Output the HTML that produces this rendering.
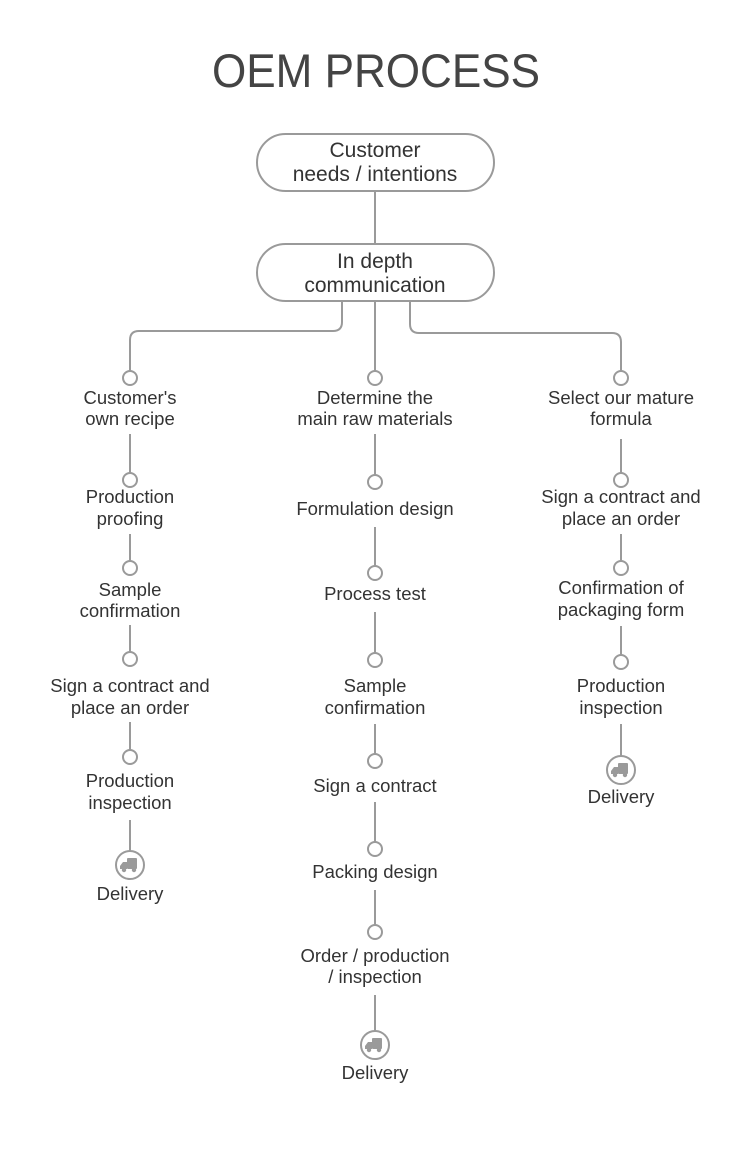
<!DOCTYPE html>
<html><head><meta charset="utf-8"><style>
html,body{margin:0;padding:0;background:#fff;width:750px;height:1164px;overflow:hidden}
svg text{font-family:"Liberation Sans",sans-serif;fill:#333;text-anchor:middle}
</style></head><body>
<svg width="750" height="1164" viewBox="0 0 750 1164" xmlns="http://www.w3.org/2000/svg">
<text x="376" y="87" font-size="47" textLength="328" lengthAdjust="spacingAndGlyphs" style="fill:#444">OEM PROCESS</text>
<g fill="none" stroke="#9a9a9a" stroke-width="2">
<rect x="257" y="134" width="237" height="57" rx="28.5"/>
<rect x="257" y="244" width="237" height="57" rx="28.5"/>
<line x1="375" y1="191" x2="375" y2="244"/>
<line x1="375" y1="301" x2="375" y2="371"/>
<path d="M342 301 V322 Q342 331 333 331 H139 Q130 331 130 340 V371"/>
<path d="M410 301 V324 Q410 333 419 333 H612 Q621 333 621 342 V371"/>
<circle cx="130" cy="378" r="7"/>
<line x1="130" y1="434" x2="130" y2="473"/><circle cx="130" cy="480" r="7"/>
<line x1="130" y1="534" x2="130" y2="561"/><circle cx="130" cy="568" r="7"/>
<line x1="130" y1="625" x2="130" y2="652"/><circle cx="130" cy="659" r="7"/>
<line x1="130" y1="722" x2="130" y2="750"/><circle cx="130" cy="757" r="7"/>
<line x1="130" y1="820" x2="130" y2="851"/><circle cx="130" cy="865" r="14"/>
<circle cx="375" cy="378" r="7"/>
<line x1="375" y1="434" x2="375" y2="475"/><circle cx="375" cy="482" r="7"/>
<line x1="375" y1="527" x2="375" y2="566"/><circle cx="375" cy="573" r="7"/>
<line x1="375" y1="612" x2="375" y2="653"/><circle cx="375" cy="660" r="7"/>
<line x1="375" y1="724" x2="375" y2="754"/><circle cx="375" cy="761" r="7"/>
<line x1="375" y1="802" x2="375" y2="842"/><circle cx="375" cy="849" r="7"/>
<line x1="375" y1="890" x2="375" y2="925"/><circle cx="375" cy="932" r="7"/>
<line x1="375" y1="995" x2="375" y2="1031"/><circle cx="375" cy="1045" r="14"/>
<circle cx="621" cy="378" r="7"/>
<line x1="621" y1="439" x2="621" y2="473"/><circle cx="621" cy="480" r="7"/>
<line x1="621" y1="534" x2="621" y2="561"/><circle cx="621" cy="568" r="7"/>
<line x1="621" y1="626" x2="621" y2="655"/><circle cx="621" cy="662" r="7"/>
<line x1="621" y1="724" x2="621" y2="756"/><circle cx="621" cy="770" r="14"/>
</g>
<g fill="#9a9a9a">
<g transform="translate(130,865)"><rect x="-3" y="-7" width="10" height="11" rx="1"/><path d="M-3 -3 H-7 L-10 1 V4 H-3 Z"/><circle cx="-6" cy="5" r="2.2"/><circle cx="4" cy="5" r="2.2"/></g>
<g transform="translate(375,1045)"><rect x="-3" y="-7" width="10" height="11" rx="1"/><path d="M-3 -3 H-7 L-10 1 V4 H-3 Z"/><circle cx="-6" cy="5" r="2.2"/><circle cx="4" cy="5" r="2.2"/></g>
<g transform="translate(621,770)"><rect x="-3" y="-7" width="10" height="11" rx="1"/><path d="M-3 -3 H-7 L-10 1 V4 H-3 Z"/><circle cx="-6" cy="5" r="2.2"/><circle cx="4" cy="5" r="2.2"/></g>
</g>
<g font-size="21">
<text x="375" y="157">Customer</text><text x="375" y="181">needs / intentions</text>
<text x="375" y="268">In depth</text><text x="375" y="292">communication</text>
</g>
<g font-size="18.5">
<text x="130" y="404">Customer's</text><text x="130" y="425">own recipe</text>
<text x="130" y="503">Production</text><text x="130" y="525">proofing</text>
<text x="130" y="596">Sample</text><text x="130" y="617">confirmation</text>
<text x="130" y="692">Sign a contract and</text><text x="130" y="714">place an order</text>
<text x="130" y="787">Production</text><text x="130" y="809">inspection</text>
<text x="130" y="900">Delivery</text>
<text x="375" y="404">Determine the</text><text x="375" y="425">main raw materials</text>
<text x="375" y="515">Formulation design</text>
<text x="375" y="600">Process test</text>
<text x="375" y="692">Sample</text><text x="375" y="714">confirmation</text>
<text x="375" y="792">Sign a contract</text>
<text x="375" y="878">Packing design</text>
<text x="375" y="962">Order / production</text><text x="375" y="983">/ inspection</text>
<text x="375" y="1079">Delivery</text>
<text x="621" y="404">Select our mature</text><text x="621" y="425">formula</text>
<text x="621" y="503">Sign a contract and</text><text x="621" y="525">place an order</text>
<text x="621" y="594">Confirmation of</text><text x="621" y="616">packaging form</text>
<text x="621" y="692">Production</text><text x="621" y="714">inspection</text>
<text x="621" y="803">Delivery</text>
</g>
</svg>
</body></html>
